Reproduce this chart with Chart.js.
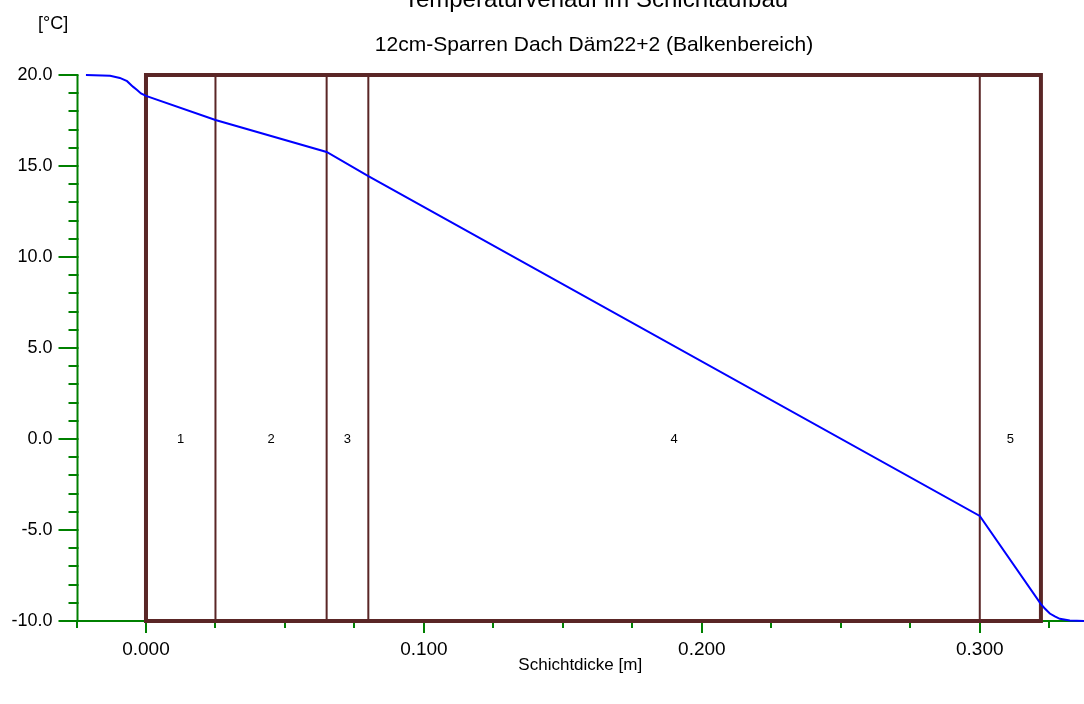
<!DOCTYPE html>
<html>
<head>
<meta charset="utf-8">
<script src="https://cdn.jsdelivr.net/npm/chart.js"></script>
<style>
  html, body { margin: 0; padding: 0; background: #fff; }
  #wrap { width: 1084px; height: 704px; }
</style>
</head>
<body>
<div id="wrap"><canvas id="chart"></canvas></div>
<script>
// temperature profile through the layers
const depth = [-0.0216, -0.0129, -0.0094, -0.0068, -0.0047, -0.0032, -0.0018, 0,
               0.025, 0.065, 0.08, 0.30, 0.322, 0.3234, 0.3252, 0.3270, 0.3288, 0.3324, 0.3375];
const temp = [20.0, 19.96, 19.84, 19.66, 19.36, 19.18, 18.99, 18.85,
              17.53, 15.77, 14.45, -4.23, -9.07, -9.31, -9.59, -9.75, -9.88, -9.97, -10.0];

// layer boundaries [m] and names
const layerBounds = [0, 0.025, 0.065, 0.08, 0.30, 0.322];
const layerNames = ['1', '2', '3', '4', '5'];

// tick labels
const xTickLabels = [0, 0.1, 0.2, 0.3];
const yTickLabels = [-10, -5, 0, 5, 10, 15, 20];

const green = '#008000';
const brown = '#5a2626';
const fontFam = "'Liberation Sans', Arial, sans-serif";

Chart.defaults.font.family = fontFam;
Chart.defaults.color = '#000';

const decoPlugin = {
    id: 'deco',
    beforeDatasetsDraw(chart) {
        const ctx = chart.ctx;
        const x = chart.scales.x, y = chart.scales.y;
        const area = chart.chartArea;
        ctx.save();
        // green axes
        ctx.strokeStyle = green;
        ctx.lineWidth = 2;
        ctx.beginPath();
        ctx.moveTo(area.left + 1, area.top);
        ctx.lineTo(area.left + 1, area.bottom);
        ctx.moveTo(area.left, area.bottom);
        ctx.lineTo(area.right, area.bottom);
        ctx.stroke();
        // y ticks, every 1 degree, long ones every 5
        for (let v = -10; v <= 20; v++) {
            const py = Math.round(y.getPixelForValue(v));
            const len = v % 5 === 0 ? 20 : 10;
            ctx.beginPath();
            ctx.moveTo(area.left + 2, py);
            ctx.lineTo(area.left + 2 - len, py);
            ctx.stroke();
        }
        // x ticks, every 0.025
        for (let i = -1; i <= 13; i++) {
            const v = i * 0.025;
            const px = Math.round(x.getPixelForValue(v));
            const len = i % 4 === 0 ? 12 : 7;
            ctx.beginPath();
            ctx.moveTo(px, area.bottom);
            ctx.lineTo(px, area.bottom + len);
            ctx.stroke();
        }
        // layer frame
        const top = y.getPixelForValue(20), bot = y.getPixelForValue(-10);
        const x0 = x.getPixelForValue(layerBounds[0]);
        const x1 = x.getPixelForValue(layerBounds[layerBounds.length - 1]);
        ctx.strokeStyle = brown;
        ctx.lineWidth = 2;
        for (let i = 1; i < layerBounds.length - 1; i++) {
            const px = x.getPixelForValue(layerBounds[i]);
            ctx.beginPath();
            ctx.moveTo(px, top);
            ctx.lineTo(px, bot);
            ctx.stroke();
        }
        ctx.lineWidth = 4;
        ctx.strokeRect(x0, top, x1 - x0, bot - top);
        // layer numbers
        ctx.fillStyle = '#000';
        ctx.font = '13px ' + fontFam;
        ctx.textAlign = 'center';
        ctx.textBaseline = 'middle';
        for (let i = 0; i < layerNames.length; i++) {
            const mid = (layerBounds[i] + layerBounds[i + 1]) / 2;
            ctx.fillText(layerNames[i], x.getPixelForValue(mid), y.getPixelForValue(0));
        }
        ctx.restore();
    },
    afterDraw(chart) {
        const ctx = chart.ctx;
        ctx.save();
        ctx.fillStyle = '#000';
        ctx.textBaseline = 'alphabetic';
        ctx.textAlign = 'center';
        ctx.font = '24px ' + fontFam;
        ctx.fillText('Temperaturverlauf im Schichtaufbau', 596, 7);
        ctx.font = '21px ' + fontFam;
        ctx.fillText('12cm-Sparren Dach Däm22+2 (Balkenbereich)', 594, 51);
        ctx.textAlign = 'left';
        ctx.font = '18px ' + fontFam;
        ctx.fillText('[°C]', 38, 29);
        ctx.restore();
    }
};

new Chart(document.getElementById('chart'), {
    type: 'scatter',
    data: {
        datasets: [{
            data: depth.map((d, i) => ({ x: d, y: temp[i] })),
            showLine: true,
            borderColor: '#0000ff',
            borderWidth: 2,
            pointRadius: 0,
            tension: 0,
            clip: false
        }]
    },
    options: {
        responsive: true,
        maintainAspectRatio: false,
        animation: false,
        layout: { padding: { top: 75, left: 0, right: 0, bottom: 0 } },
        plugins: { legend: { display: false }, tooltip: { enabled: false } },
        scales: {
            x: {
                type: 'linear',
                min: -0.025,
                max: 0.3375,
                grid: { display: false, drawTicks: false },
                border: { display: false },
                afterBuildTicks: s => { s.ticks = xTickLabels.map(v => ({ value: v })); },
                afterFit: s => { s.height = 83; },
                ticks: {
                    callback: v => v.toFixed(3),
                    font: { size: 19 },
                    padding: 17,
                    maxRotation: 0,
                    autoSkip: false
                },
                title: {
                    display: true,
                    text: 'Schichtdicke [m]',
                    font: { size: 17 },
                    padding: { top: 0, bottom: 28 }
                }
            },
            y: {
                type: 'linear',
                min: -10,
                max: 20,
                grid: { display: false, drawTicks: false },
                border: { display: false },
                afterBuildTicks: s => { s.ticks = yTickLabels.map(v => ({ value: v })); },
                afterFit: s => { s.width = 76.5; },
                ticks: {
                    callback: v => v.toFixed(1),
                    font: { size: 18 },
                    padding: 24,
                    autoSkip: false
                }
            }
        }
    },
    plugins: [decoPlugin]
});
</script>
</body>
</html>
